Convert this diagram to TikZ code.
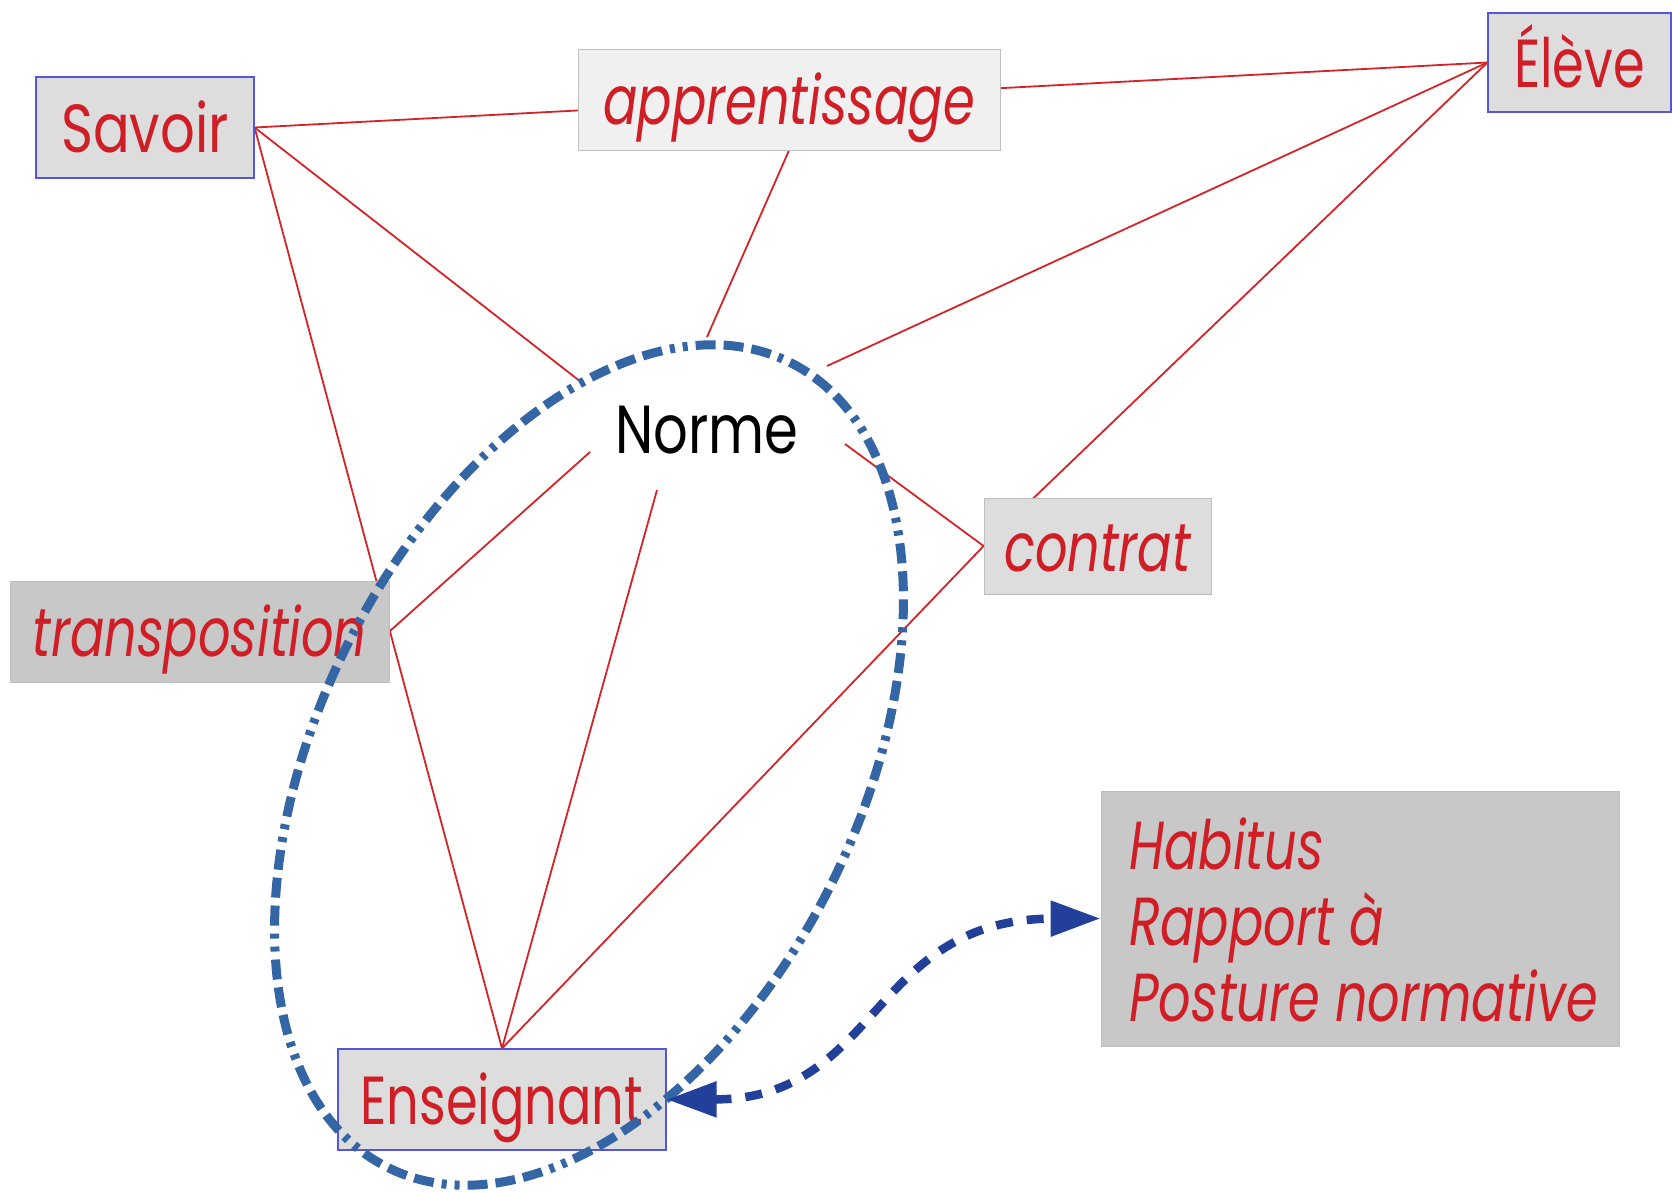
\documentclass[tikz,border=0pt]{standalone}
\usepackage{fontspec}
\setmainfont{Poppins}[FakeStretch=0.75]
\newfontfamily\uprfont{Poppins}[FakeStretch=0.8]
\usetikzlibrary{arrows.meta,calc}
\pgfdeclarelayer{bg}
\pgfsetlayers{bg,main}
\definecolor{tred}{RGB}{208,30,38}
\definecolor{lred}{RGB}{212,36,40}
\definecolor{bblue}{RGB}{85,85,221}
\definecolor{eblue}{RGB}{52,101,164}
\definecolor{ablue}{RGB}{34,64,154}
\definecolor{gA}{RGB}{221,221,221}
\definecolor{gB}{RGB}{240,240,240}
\definecolor{gC}{RGB}{200,200,200}
\definecolor{gE}{RGB}{190,190,190}
\begin{document}
\begin{tikzpicture}[x=1pt,y=-1pt,
  lbl/.style={text=tred, font=\fontsize{68}{76}\selectfont, text height=50pt, text depth=0pt, inner sep=0pt, anchor=center},
  bluebox/.style={lbl, draw=bblue, line width=1.2pt, fill=gA},
  greybox/.style={lbl, draw=gE, line width=0.8pt},
  ital/.style={font=\fontsize{68}{76}\selectfont\itshape},
  rl/.style={draw=lred, line width=1.8pt},
  ell/.style={draw=eblue, line width=9pt, dash pattern=on 20pt off 8pt on 20pt off 8pt on 20pt off 8pt on 5pt off 8pt on 5pt off 8pt},
  arr/.style={draw=ablue, line width=8.5pt, dash pattern=on 17pt off 14pt, {Triangle[length=50pt,width=34pt]}-{Triangle[length=50pt,width=34pt]}}
]
\useasboundingbox (0,0) rectangle (1673,1192);
\begin{pgfonlayer}{bg}
\fill[white] (0,0) rectangle (1673,1192);
\end{pgfonlayer}

% boxes
\node[bluebox, font=\fontsize{68}{76}\selectfont\uprfont, minimum width=218pt, minimum height=101pt] (sav) at (145,127.5) {Savoir};
\node[greybox, ital, fill=gB, minimum width=422pt, minimum height=101pt] (app) at (789,99.5) {apprentissage};
\node[bluebox, minimum width=183pt, minimum height=99pt] (elv) at (1579.5,62.5) {Élève};
\node[greybox, ital, fill=gC, minimum width=379pt, minimum height=101pt] (tra) at (199.5,631.5) {transposition};
\node[greybox, ital, fill=gA, minimum width=227pt, minimum height=96pt] (con) at (1097.5,546) {contrat};
\node[bluebox, minimum width=328pt, minimum height=101pt] (ens) at (502,1099.5) {Enseignant};
\node[lbl, text=black, font=\fontsize{68}{76}\selectfont\uprfont] (nor) at (707,428) {Norme};
\node[fill=gC, draw=gE, line width=0.8pt, minimum width=518pt, minimum height=255pt, inner sep=0pt]
      (hab) at (1360,918.5) {};
\node[text=tred, font=\fontsize{68}{76}\selectfont\itshape, inner sep=0pt, align=left, anchor=west]
      (habt) at (1129,920) {Habitus\\Rapport à\\Posture normative};

% free ends around Norme
\coordinate (nSav) at (581,382);
\coordinate (nApp) at (707,337);
\coordinate (nElv) at (827,366);
\coordinate (nCon) at (845,444);
\coordinate (nTra) at (590,452);
\coordinate (nEns) at (657,490);

\begin{pgfonlayer}{bg}
\draw[rl] (sav.east) -- (elv.west);
\draw[rl] (sav.east) -- (ens.north);
\draw[rl] (sav.east) -- (nSav);
\draw[rl] (app.south) -- (nApp);
\draw[rl] (elv.west) -- (nElv);
\draw[rl] (elv.west) -- (con.west);
\draw[rl] (con.west) -- (nCon);
\draw[rl] (con.west) -- (ens.north);
\draw[rl] (tra.east) -- (nTra);
\draw[rl] (ens.north) -- (nEns);
\end{pgfonlayer}

% ellipse around Norme and Enseignant
\draw[ell, rotate around={63.4:(589,765)}] (589,765) ellipse [x radius=450, y radius=270];

% double arrow
\draw[arr] (ens.east) .. controls (880,1099) and (870,919) .. (hab.west);
\end{tikzpicture}
\end{document}
